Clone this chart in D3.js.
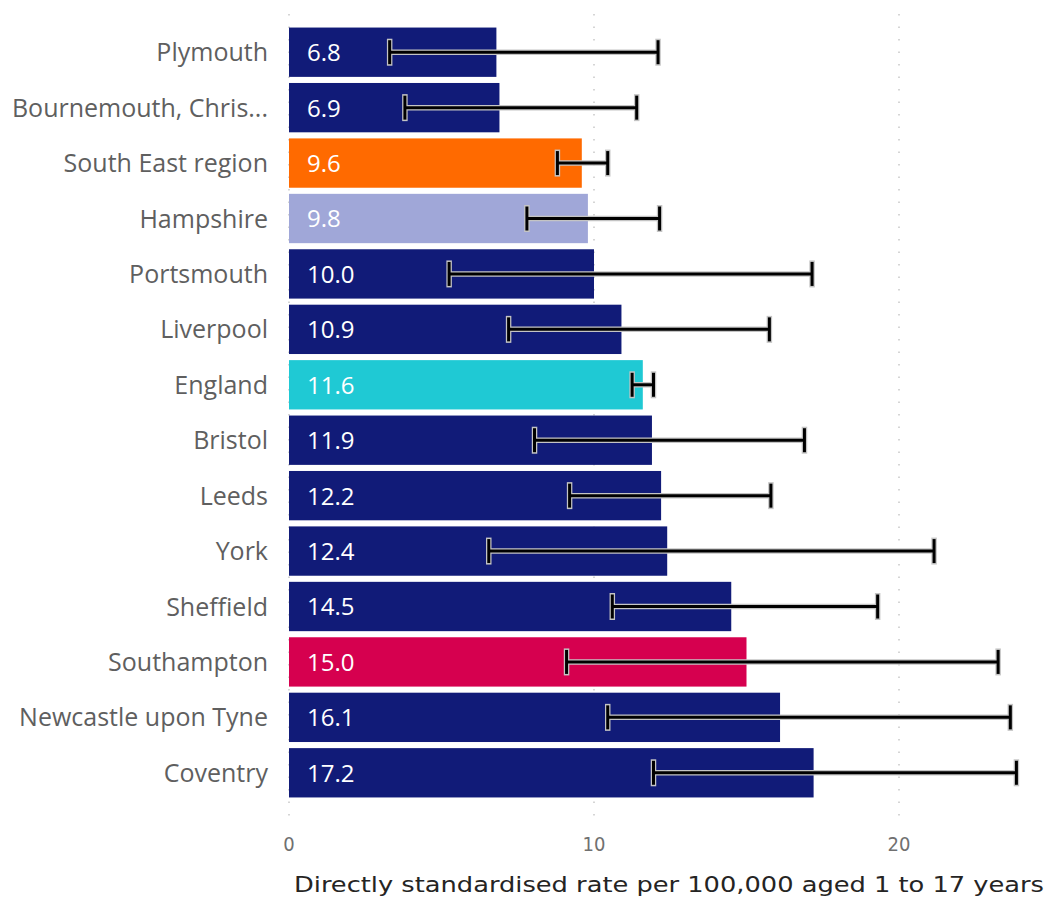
<!DOCTYPE html>
<html><head><meta charset="utf-8">
<script src="https://cdn.jsdelivr.net/npm/d3@7"></script>
<style>body{margin:0;background:#fff}</style>
</head><body>
<svg id="c" width="1051" height="897"></svg>
<script>
const categories = ["Plymouth","Bournemouth, Chris...","South East region","Hampshire","Portsmouth","Liverpool","England","Bristol","Leeds","York","Sheffield","Southampton","Newcastle upon Tyne","Coventry"];
const values = [6.8,6.9,9.6,9.8,10.0,10.9,11.6,11.9,12.2,12.4,14.5,15.0,16.1,17.2];
const lower = [3.3,3.8,8.8,7.8,5.25,7.2,11.25,8.05,9.2,6.55,10.6,9.1,10.45,11.95];
const upper = [12.1,11.4,10.45,12.15,17.15,15.75,11.95,16.9,15.8,21.15,19.3,23.25,23.65,23.85];
const barColors = ["#111b78","#111b78","#ff6a00","#a0a7d8","#111b78","#111b78","#1fc9d4","#111b78","#111b78","#111b78","#111b78","#d6004f","#111b78","#111b78"];
const ticks = [0,10,20];
const axisTitle = "Directly standardised rate per 100,000 aged 1 to 17 years";

const svg = d3.select("#c");
const x = d3.scaleLinear().domain([0,20]).range([289,899]);
const y = d3.scaleBand().domain(categories).range([24.5,800.5]).paddingInner(0.11).paddingOuter(0.055);

// gridlines
svg.append("g").selectAll("line").data(ticks).join("line")
  .attr("x1",d=>x(d)).attr("x2",d=>x(d)).attr("y1",14).attr("y2",826)
  .attr("stroke","#c8c8c8").attr("stroke-width",1.5).attr("stroke-dasharray","1.5,11");

// bars
svg.append("g").selectAll("rect").data(categories).join("rect")
  .attr("x",x(0)).attr("y",d=>y(d)).attr("width",(d,i)=>x(values[i])-x(0)).attr("height",y.bandwidth())
  .attr("fill",(d,i)=>barColors[i]);

// value labels
svg.append("g").selectAll("text").data(categories).join("text")
  .attr("x",x(0)+18).attr("y",(d)=>y(d)+y.bandwidth()/2).attr("dy","0.37em")
  .attr("fill","#fff").attr("font-family","'Open Sans', sans-serif").attr("font-size",24)
  .text((d,i)=>values[i].toFixed(1));

// error bars
const eb = svg.append("g");
[["#c4c4c4",5.5],["#000",3]].forEach(([col,w])=>{
  const g = eb.append("g");
  categories.forEach((c,i)=>{
    const cy = y(c)+y.bandwidth()/2;
    const capH = w>4 ? 27 : 24;
    g.append("line").attr("x1",x(lower[i])).attr("x2",x(upper[i])).attr("y1",cy).attr("y2",cy).attr("stroke",col).attr("stroke-width",w);
    [lower[i],upper[i]].forEach(v=>{
      g.append("line").attr("x1",x(v)).attr("x2",x(v)).attr("y1",cy-capH/2).attr("y2",cy+capH/2).attr("stroke",col).attr("stroke-width",w);
    });
  });
});

// category labels
svg.append("g").selectAll("text").data(categories).join("text")
  .attr("x",268).attr("y",d=>y(d)+y.bandwidth()/2).attr("dy","0.36em")
  .attr("text-anchor","end").attr("fill","#5f5f5f")
  .attr("font-family","'Open Sans', sans-serif").attr("font-size",25)
  .text(d=>d);

// tick labels
svg.append("g").selectAll("text").data(ticks).join("text")
  .attr("x",d=>x(d)).attr("y",851).attr("text-anchor","middle")
  .attr("fill","#707070").attr("font-family","'DejaVu Sans Condensed','Liberation Sans Narrow',sans-serif").attr("font-size",20)
  .text(d=>d);

// axis title
svg.append("text").attr("x",669).attr("y",892).attr("text-anchor","middle")
  .attr("fill","#252423").attr("font-family","'DejaVu Sans Condensed','Liberation Sans Narrow',sans-serif").attr("font-size",22)
  .attr("textLength",750).attr("lengthAdjust","spacingAndGlyphs")
  .text(axisTitle);
</script>
</body></html>
